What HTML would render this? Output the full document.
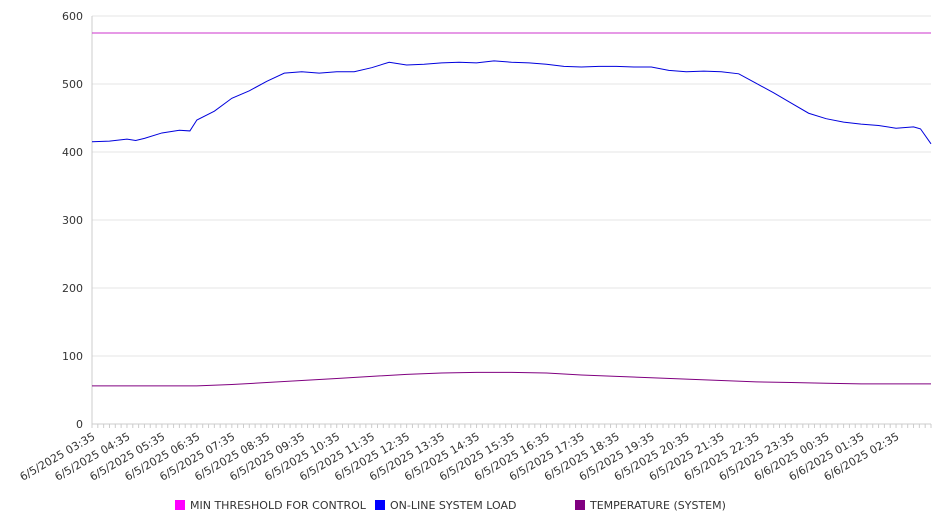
<!DOCTYPE html>
<html><head><meta charset="utf-8">
<style>
html,body{margin:0;padding:0;background:#fff;}
body{width:946px;height:526px;overflow:hidden;font-family:"Liberation Sans","DejaVu Sans",sans-serif;}
svg text{font-family:"DejaVu Sans","Liberation Sans",sans-serif;font-size:11px;fill:#333;}
</style></head>
<body>
<svg id="chart" width="946" height="526" xmlns="http://www.w3.org/2000/svg"></svg>
<script>
const timeLabels=["6/5/2025 03:35","6/5/2025 04:35","6/5/2025 05:35","6/5/2025 06:35","6/5/2025 07:35","6/5/2025 08:35","6/5/2025 09:35","6/5/2025 10:35","6/5/2025 11:35","6/5/2025 12:35","6/5/2025 13:35","6/5/2025 14:35","6/5/2025 15:35","6/5/2025 16:35","6/5/2025 17:35","6/5/2025 18:35","6/5/2025 19:35","6/5/2025 20:35","6/5/2025 21:35","6/5/2025 22:35","6/5/2025 23:35","6/6/2025 00:35","6/6/2025 01:35","6/6/2025 02:35"];
const yTicks=[0,100,200,300,400,500,600];
const loadHours=[0,0.5,1,1.25,1.5,2,2.5,2.8,3,3.5,4,4.5,5,5.5,6,6.5,7,7.5,8,8.5,9,9.5,10,10.5,11,11.5,12,12.5,13,13.5,14,14.5,15,15.5,16,16.5,17,17.5,18,18.5,19,19.5,20,20.5,21,21.5,22,22.5,23,23.5,23.7,24];
const loadValues=[415,416,419,417,420,428,432,431,447,460,479,490,504,516,518,516,518,518,524,532,528,529,531,532,531,534,532,531,529,526,525,526,526,525,525,520,518,519,518,515,501,487,472,457,449,444,441,439,435,437,434,412];
const tempHours=[0,1,2,3,4,5,6,7,8,9,10,11,12,13,14,15,16,17,18,19,20,21,22,23,24];
const tempValues=[56,56,56,56,58,61,64,67,70,73,75,76,76,75,72,70,68,66,64,62,61,60,59,59,59];
const thresholdValue=575;
const NS="http://www.w3.org/2000/svg";
const svg=document.getElementById('chart');
const X0=92,X1=931,Y0=424,Y1=16;
const xs=h=>X0+(X1-X0)*h/24;
const ys=v=>Y0-(Y0-Y1)*v/600;
function mk(t,a){const e=document.createElementNS(NS,t);for(const k in a)e.setAttribute(k,a[k]);svg.appendChild(e);return e;}
yTicks.forEach(v=>{
  if(v>0){const g=mk('line',{x1:X0,x2:X1,y1:ys(v),y2:ys(v),stroke:'#e6e6e6','stroke-width':1});
  
  }
  const t=mk('text',{x:83,y:ys(v)+4,'text-anchor':'end'});t.textContent=v;
  
  
});
const ax=mk('line',{x1:X0,x2:X0,y1:Y1,y2:Y0,stroke:'#ccc'});


const bx=mk('line',{x1:X0,x2:X1,y1:Y0,y2:Y0,stroke:'#ccc'});


for(let i=0;i<=24*6;i++){const x=X0+(X1-X0)*i/144;const m=mk('line',{x1:x,x2:x,y1:Y0,y2:Y0+4,stroke:'#ccc'});

}
timeLabels.forEach((l,i)=>{const x=xs(i),y=Y0+8;
 const t=mk('text',{x:x,y:y,'text-anchor':'end',transform:`rotate(-30 ${x} ${y})`,dy:'0.7em'});t.textContent=l;
 
 });
const th=mk('line',{x1:X0,x2:X1,y1:ys(thresholdValue),y2:ys(thresholdValue),stroke:'#cc33cc','stroke-width':1});


const lp=mk('polyline',{points:loadHours.map((h,i)=>xs(h)+','+ys(loadValues[i])).join(' '),fill:'none',stroke:'#0000dd','stroke-width':1});


const tp=mk('polyline',{points:tempHours.map((h,i)=>xs(h)+','+ys(tempValues[i])).join(' '),fill:'none',stroke:'#800080','stroke-width':1});


[["MIN THRESHOLD FOR CONTROL","#ff00ff",175],["ON-LINE SYSTEM LOAD","#0000ff",375],["TEMPERATURE (SYSTEM)","#800080",575]].forEach(([n,c,x])=>{
 const r=mk('rect',{x:x,y:500,width:10,height:10,fill:c});
 
 
 const t=mk('text',{x:x+15,y:509});t.textContent=n;
 
 
});
</script>
</body></html>
